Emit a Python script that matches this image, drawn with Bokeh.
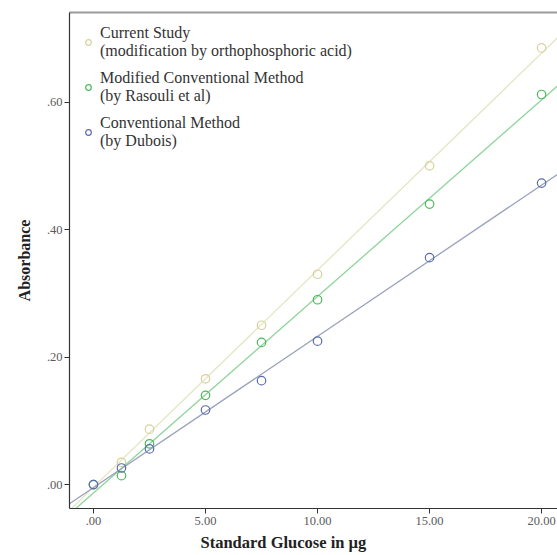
import numpy as np
from bokeh.plotting import figure
from bokeh.models import Range1d, FixedTicker, LinearAxis, Legend, LegendItem, Title
from bokeh.embed import file_html
from bokeh.resources import INLINE

# ---- data ----
glucose = [0, 1.25, 2.5, 5, 7.5, 10, 15, 20]
current_study = [0.000, 0.035, 0.087, 0.166, 0.250, 0.330, 0.500, 0.685]
modified_method = [0.000, 0.014, 0.064, 0.140, 0.223, 0.290, 0.440, 0.612]
conventional_method = [0.000, 0.026, 0.056, 0.117, 0.163, 0.225, 0.356, 0.473]

series_names = ["Current Study\n(modification by orthophosphoric acid)",
                "Modified Conventional Method\n(by Rasouli et al)",
                "Conventional Method\n(by Dubois)"]

x_ticks = [0, 5, 10, 15, 20]
x_tick_labels = [".00", "5.00", "10.00", "15.00", "20.00"]
y_ticks = [0, 0.2, 0.4, 0.6]
y_tick_labels = [".00", ".20", ".40", ".60"]

X0, X1 = -1.07, 20.71
Y0, Y1 = -0.0375, 0.7406

SERIF = "Liberation Serif"

p = figure(width=557, height=555, x_range=Range1d(X0, X1), y_range=Range1d(Y0, Y1),
           output_backend="svg", toolbar_location=None,
           min_border_left=69, min_border_right=0, min_border_top=12, min_border_bottom=45,
           background_fill_color="white", border_fill_color="white")
p.outline_line_color = None
p.grid.visible = False

# axes
p.xaxis.ticker = FixedTicker(ticks=x_ticks)
p.xaxis.major_label_overrides = {t: l for t, l in zip(x_ticks, x_tick_labels)}
p.yaxis.ticker = FixedTicker(ticks=y_ticks)
p.yaxis.major_label_overrides = {t: l for t, l in zip(y_ticks, y_tick_labels)}
for ax in (p.xaxis[0], p.yaxis[0]):
    ax.axis_line_color = "#333333"
    ax.axis_line_width = 1.2
    ax.major_tick_line_color = "#333333"
    ax.major_tick_out = 5
    ax.major_tick_in = 0
    ax.minor_tick_line_color = None
    ax.major_label_text_font = SERIF
    ax.major_label_text_font_size = "12.5px"
    ax.major_label_text_color = "#5a5a5a"
p.xaxis.major_label_standoff = 3
p.yaxis.major_label_standoff = 2
p.yaxis.axis_label = "Absorbance"
p.yaxis.axis_label_text_font = SERIF
p.yaxis.axis_label_text_font_size = "16px"
p.yaxis.axis_label_text_font_style = "bold"
p.yaxis.axis_label_text_color = "#222222"
p.yaxis.axis_label_standoff = 11

top_axis = LinearAxis(ticker=FixedTicker(ticks=[]), major_label_text_font_size="0px",
                      major_tick_line_color=None, minor_tick_line_color=None,
                      axis_line_color="#9a9a9a", axis_line_width=2, major_label_standoff=0)
p.add_layout(top_axis, "above")

xtitle = Title(text="Standard Glucose in \u00b5g", align="left", offset=131, standoff=7,
               text_font=SERIF, text_font_size="16.5px", text_font_style="bold",
               text_color="#222222")
p.add_layout(xtitle, "below")

marker_colors = ["#d6d29e", "#4cba5c", "#5a6cb0"]
line_colors = ["#e4e6c4", "#8ed49a", "#9aa2bc"]
values = [current_study, modified_method, conventional_method]

xs = np.array(glucose)
xfit = np.array([X0, X1])
items = []
for name, vals, mc, lc in zip(series_names, values, marker_colors, line_colors):
    slope, icpt = np.polyfit(xs, np.array(vals), 1)
    p.line(xfit, slope * xfit + icpt, line_color=lc, line_width=1.3)
    r = p.scatter(glucose, vals, marker="circle", size=8.5, fill_color=None,
                  line_color=mc, line_width=1.2)
    items.append(LegendItem(label=name, renderers=[r]))

legend = Legend(items=items, location="top_left", margin=12, padding=8,
                glyph_width=14, glyph_height=16, label_standoff=5, spacing=9,
                background_fill_alpha=0, border_line_color=None,
                label_text_font=SERIF, label_text_font_size="16px",
                label_text_color="#333333", label_text_line_height=1.08)
p.add_layout(legend)

open("out.html", "w").write(file_html(p, INLINE))
